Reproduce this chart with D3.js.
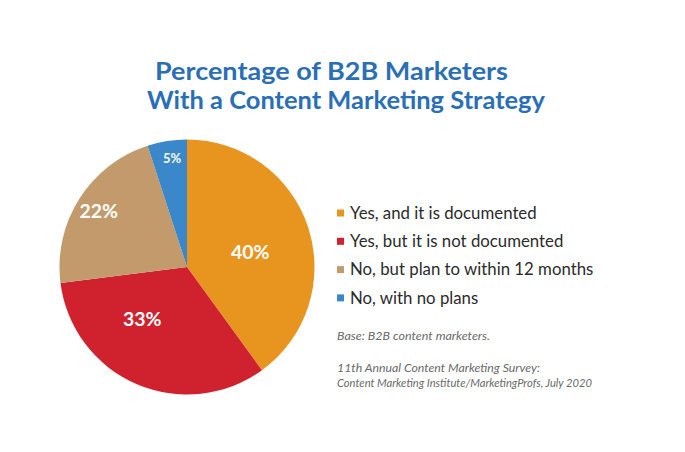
<!DOCTYPE html>
<html><head><meta charset="utf-8">
<script src="https://cdn.jsdelivr.net/npm/d3@7"></script>
<style>body{margin:0;background:#fff}</style>
</head><body>
<svg id="chart" width="685" height="452"></svg>
<script>
const categories = ["Yes, and it is documented","Yes, but it is not documented","No, but plan to within 12 months","No, with no plans"];
const values = [40, 33, 22, 5];
const colors = ["#e8951f", "#d0212e", "#c39a6b", "#3a88c9"];
const titleLines = ["Percentage of B2B Marketers", "With a Content Marketing Strategy"];
const notes = ["Base: B2B content marketers.", "11th Annual Content Marketing Survey:", "Content Marketing Institute/MarketingProfs, July 2020"];

const svg = d3.select("#chart");
svg.append("rect").attr("width",685).attr("height",452).attr("fill","#fff");

// title
const titleX = [155, 147], titleW = [353, 398];
svg.append("g").selectAll("text").data(titleLines).join("text")
  .attr("x", (d,i)=>titleX[i]).attr("y", (d,i)=>80+i*29)
  .attr("textLength",(d,i)=>titleW[i]).attr("lengthAdjust","spacingAndGlyphs")
  .attr("font-family","Lato, 'Open Sans', sans-serif").attr("font-weight","bold")
  .attr("font-size", 25.5).attr("fill","#2a6fb6").text(d=>d);

// pie
const cx = 187, cy = 267, R = 127.5;
const pie = d3.pie().sort(null).value(d=>d)(values);
const arc = d3.arc().innerRadius(0).outerRadius(R);
const g = svg.append("g").attr("transform",`translate(${cx},${cy})`);
g.selectAll("path").data(pie).join("path")
  .attr("d", arc).attr("fill", (d,i)=>colors[i]);

// labels (radius fraction and angle tweak per slice)
const lblR = [0.51, 0.54, 0.82, 0.86];
const lblDA = [0.08, 0.3, 0, 0.02];
const lblSize = [19.5, 19.5, 19.5, 13];
g.selectAll("text").data(pie).join("text")
  .attr("x", (d,i)=>{const a=(d.startAngle+d.endAngle)/2+lblDA[i]; return Math.sin(a)*R*lblR[i];})
  .attr("y", (d,i)=>{const a=(d.startAngle+d.endAngle)/2+lblDA[i]; return -Math.cos(a)*R*lblR[i];})
  .attr("dy","0.36em").attr("text-anchor","middle")
  .attr("font-family","Lato, 'Open Sans', sans-serif").attr("font-weight","bold")
  .attr("font-size",(d,i)=>lblSize[i]).attr("fill","#fff")
  .text((d,i)=>values[i]+"%");

// legend
const leg = svg.append("g").attr("transform","translate(337,213)");
const items = leg.selectAll("g").data(categories).join("g")
  .attr("transform",(d,i)=>`translate(0,${i*28.3})`);
items.append("rect").attr("x",0).attr("y",-3.5).attr("width",7).attr("height",7)
  .attr("fill",(d,i)=>colors[i]);
items.append("text").attr("x",13).attr("y",0).attr("dy","0.35em")
  .attr("font-family","Lato, 'Open Sans', sans-serif").attr("font-size",16.8)
  .attr("fill","#2b2b2b").text(d=>d);

// notes
const noteY = [340, 372, 387], noteW = [153, 203, 255];
svg.append("g").selectAll("text").data(notes).join("text")
  .attr("x",337).attr("y",(d,i)=>noteY[i])
  .attr("textLength",(d,i)=>noteW[i]).attr("lengthAdjust","spacingAndGlyphs")
  .attr("font-family","Lato, 'Open Sans', sans-serif").attr("font-style","italic")
  .attr("font-size",11).attr("fill","#6a6a6a").text(d=>d);
</script>
</body></html>
